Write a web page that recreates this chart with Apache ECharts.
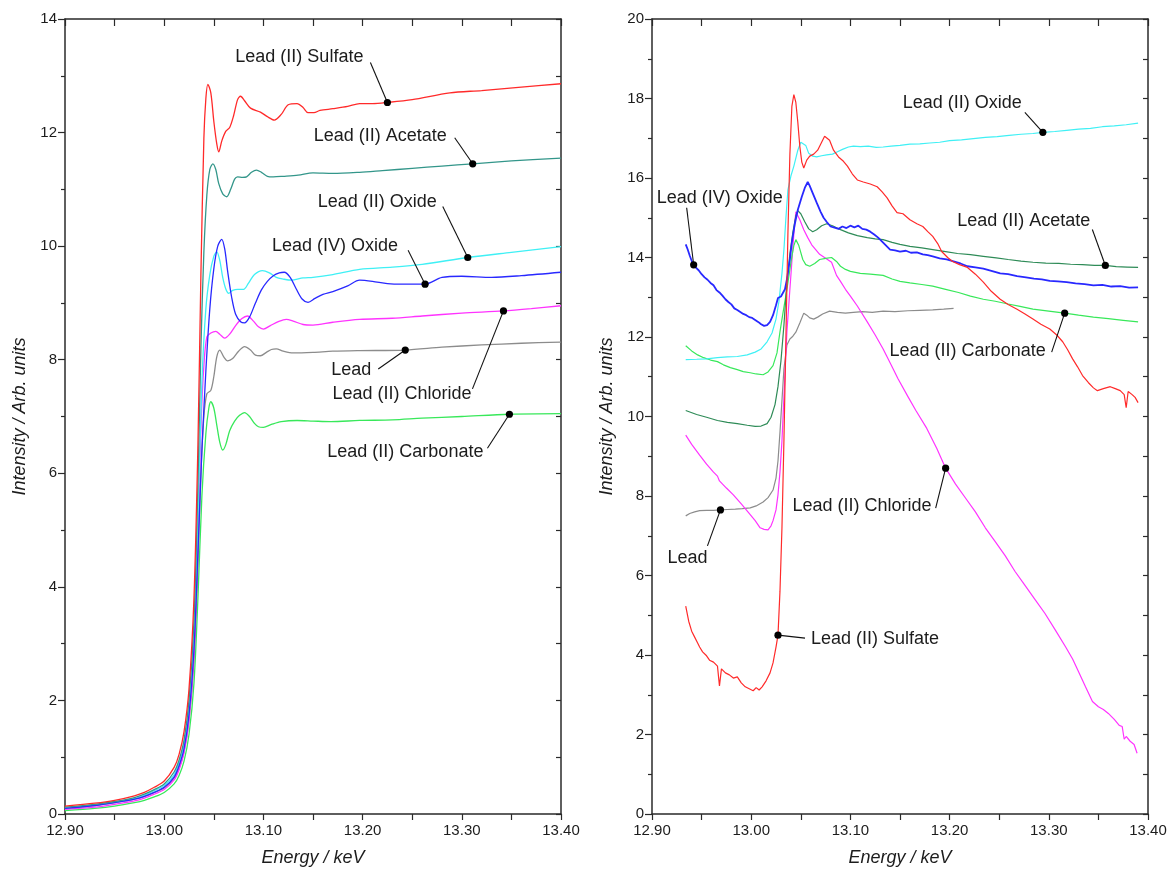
<!DOCTYPE html>
<html>
<head>
<meta charset="utf-8">
<script src="https://cdn.jsdelivr.net/npm/echarts/dist/echarts.min.js"></script>
<style>
  html, body { margin: 0; padding: 0; background: #fff; }
  #chart { width: 1173px; height: 872px; }
</style>
</head>
<body>
<div id="chart"></div>
<script>
// ---- Pb L3-edge XANES, normalised and offset (left panel) ----  [energy keV, intensity]
const leftSulfate = [[12.90,0.14],[12.93,0.19],[12.95,0.24],[12.97,0.32],[12.98,0.38],[12.99,0.47],[13.00,0.58],[13.01,0.82],[13.015,1.05],[13.02,1.45],[13.025,2.2],[13.03,3.8],[13.034,6.5],[13.037,9.5],[13.04,11.9],[13.042,12.6],[13.044,12.85],[13.047,12.7],[13.050,12.2],[13.053,11.8],[13.055,11.66],[13.058,11.85],[13.062,12.02],[13.066,12.09],[13.070,12.3],[13.074,12.58],[13.077,12.64],[13.081,12.56],[13.087,12.43],[13.097,12.36],[13.104,12.28],[13.111,12.22],[13.118,12.32],[13.125,12.49],[13.134,12.51],[13.140,12.44],[13.145,12.35],[13.151,12.35],[13.157,12.39],[13.170,12.42],[13.185,12.46],[13.197,12.51],[13.21,12.51],[13.225,12.53],[13.25,12.58],[13.288,12.7],[13.32,12.74],[13.36,12.8],[13.40,12.86]];
const leftAcetate = [[12.90,0.12],[12.93,0.17],[12.95,0.22],[12.97,0.29],[12.98,0.35],[12.99,0.43],[13.00,0.53],[13.01,0.74],[13.015,0.95],[13.02,1.3],[13.025,2.0],[13.03,3.4],[13.034,5.8],[13.037,8.2],[13.040,9.9],[13.043,10.9],[13.046,11.35],[13.049,11.45],[13.052,11.35],[13.055,11.1],[13.059,10.92],[13.063,10.87],[13.067,11.0],[13.071,11.18],[13.074,11.22],[13.079,11.21],[13.083,11.22],[13.088,11.3],[13.093,11.34],[13.098,11.3],[13.104,11.23],[13.110,11.22],[13.120,11.23],[13.135,11.25],[13.150,11.29],[13.170,11.28],[13.197,11.3],[13.22,11.33],[13.25,11.37],[13.28,11.41],[13.311,11.45],[13.35,11.5],[13.40,11.55]];
const leftOxide2 = [[12.90,0.11],[12.93,0.16],[12.95,0.21],[12.97,0.27],[12.98,0.33],[12.99,0.41],[13.00,0.5],[13.01,0.69],[13.015,0.9],[13.02,1.22],[13.025,1.85],[13.03,3.1],[13.034,5.2],[13.038,7.6],[13.042,8.9],[13.046,9.5],[13.050,9.82],[13.053,9.9],[13.056,9.75],[13.059,9.45],[13.062,9.25],[13.065,9.17],[13.069,9.22],[13.074,9.24],[13.080,9.24],[13.085,9.35],[13.091,9.5],[13.099,9.57],[13.106,9.53],[13.113,9.45],[13.120,9.42],[13.128,9.4],[13.140,9.44],[13.150,9.45],[13.170,9.5],[13.197,9.59],[13.23,9.63],[13.26,9.68],[13.306,9.8],[13.35,9.89],[13.40,9.99]];
const leftOxide4 = [[12.90,0.1],[12.93,0.15],[12.95,0.2],[12.97,0.26],[12.98,0.31],[12.99,0.38],[13.00,0.47],[13.01,0.65],[13.015,0.85],[13.02,1.15],[13.025,1.75],[13.03,2.9],[13.034,4.6],[13.038,6.4],[13.042,7.8],[13.046,8.9],[13.050,9.6],[13.054,10.0],[13.058,10.12],[13.061,9.95],[13.064,9.55],[13.068,9.1],[13.072,8.8],[13.077,8.67],[13.081,8.65],[13.086,8.75],[13.092,9.0],[13.098,9.23],[13.104,9.38],[13.110,9.48],[13.116,9.53],[13.121,9.54],[13.127,9.45],[13.133,9.25],[13.139,9.07],[13.145,9.01],[13.152,9.08],[13.160,9.15],[13.170,9.2],[13.185,9.3],[13.197,9.4],[13.21,9.38],[13.225,9.34],[13.24,9.33],[13.263,9.33],[13.28,9.45],[13.30,9.47],[13.33,9.45],[13.36,9.48],[13.40,9.54]];
const leftChloride = [[12.90,0.08],[12.93,0.12],[12.95,0.17],[12.97,0.23],[12.98,0.28],[12.99,0.35],[13.00,0.43],[13.01,0.6],[13.015,0.78],[13.02,1.08],[13.025,1.65],[13.03,2.8],[13.034,4.8],[13.037,6.8],[13.040,7.9],[13.043,8.4],[13.047,8.47],[13.052,8.5],[13.056,8.45],[13.061,8.38],[13.066,8.45],[13.072,8.6],[13.078,8.72],[13.084,8.77],[13.090,8.68],[13.095,8.58],[13.100,8.54],[13.107,8.6],[13.115,8.67],[13.123,8.71],[13.130,8.68],[13.140,8.62],[13.150,8.61],[13.170,8.66],[13.197,8.71],[13.23,8.73],[13.26,8.77],[13.30,8.82],[13.342,8.86],[13.37,8.9],[13.40,8.95]];
const leftLead = [[12.90,0.1],[12.93,0.15],[12.95,0.2],[12.97,0.26],[12.98,0.31],[12.99,0.38],[13.00,0.46],[13.01,0.63],[13.015,0.82],[13.02,1.1],[13.025,1.65],[13.03,2.7],[13.034,4.4],[13.037,6.0],[13.040,7.0],[13.043,7.4],[13.047,7.46],[13.050,7.7],[13.053,8.05],[13.056,8.17],[13.060,8.05],[13.064,7.98],[13.069,8.02],[13.075,8.15],[13.081,8.23],[13.087,8.17],[13.092,8.08],[13.097,8.07],[13.103,8.13],[13.108,8.18],[13.113,8.19],[13.120,8.15],[13.130,8.12],[13.150,8.13],[13.170,8.15],[13.197,8.16],[13.243,8.17],[13.28,8.22],[13.32,8.26],[13.36,8.29],[13.40,8.31]];
const leftCarbonate = [[12.90,0.06],[12.93,0.1],[12.95,0.14],[12.97,0.2],[12.98,0.24],[12.99,0.3],[13.00,0.38],[13.01,0.53],[13.015,0.68],[13.02,0.93],[13.025,1.4],[13.03,2.3],[13.034,3.8],[13.038,5.6],[13.042,6.7],[13.045,7.15],[13.047,7.26],[13.050,7.15],[13.053,6.85],[13.056,6.55],[13.059,6.41],[13.062,6.5],[13.066,6.75],[13.071,6.92],[13.076,7.02],[13.081,7.07],[13.086,7.0],[13.091,6.88],[13.095,6.82],[13.100,6.81],[13.108,6.86],[13.118,6.91],[13.134,6.93],[13.15,6.92],[13.168,6.91],[13.197,6.93],[13.23,6.94],[13.26,6.97],[13.30,7.0],[13.348,7.04],[13.40,7.05]];

// ---- raw spectra (right panel) ----  [energy keV, intensity]
const rightSulfate = [[12.934,5.23],[12.937,4.85],[12.940,4.6],[12.943,4.45],[12.946,4.3],[12.948,4.2],[12.951,4.08],[12.955,3.98],[12.958,3.87],[12.962,3.82],[12.966,3.72],[12.968,3.22],[12.970,3.65],[12.974,3.55],[12.978,3.5],[12.982,3.42],[12.986,3.45],[12.990,3.3],[12.994,3.2],[12.998,3.15],[13.002,3.1],[13.005,3.18],[13.008,3.12],[13.011,3.2],[13.015,3.35],[13.019,3.55],[13.022,3.8],[13.025,4.2],[13.027,4.5],[13.029,5.6],[13.031,7.2],[13.033,9.4],[13.035,12.0],[13.037,14.6],[13.039,16.6],[13.041,17.8],[13.043,18.1],[13.045,17.9],[13.047,17.4],[13.049,16.8],[13.051,16.4],[13.053,16.25],[13.056,16.45],[13.059,16.55],[13.063,16.6],[13.067,16.7],[13.071,16.9],[13.074,17.05],[13.076,17.08],[13.079,16.95],[13.083,16.7],[13.088,16.53],[13.093,16.42],[13.097,16.3],[13.102,16.1],[13.107,15.95],[13.113,15.9],[13.120,15.85],[13.127,15.78],[13.132,15.65],[13.137,15.5],[13.142,15.3],[13.147,15.13],[13.153,15.1],[13.160,14.95],[13.167,14.85],[13.173,14.78],[13.178,14.65],[13.183,14.53],[13.188,14.35],[13.192,14.15],[13.198,14.0],[13.203,13.9],[13.210,13.82],[13.218,13.75],[13.226,13.58],[13.234,13.38],[13.242,13.15],[13.251,12.95],[13.259,12.82],[13.268,12.7],[13.276,12.58],[13.284,12.45],[13.292,12.32],[13.301,12.2],[13.308,12.05],[13.314,11.88],[13.319,11.68],[13.324,11.45],[13.329,11.25],[13.334,11.03],[13.340,10.85],[13.345,10.72],[13.349,10.65],[13.355,10.7],[13.362,10.75],[13.367,10.7],[13.372,10.65],[13.376,10.55],[13.378,10.22],[13.380,10.63],[13.384,10.55],[13.387,10.48],[13.390,10.35]];
const rightAcetate = [[12.934,10.15],[12.945,10.05],[12.955,9.98],[12.966,9.9],[12.976,9.85],[12.986,9.82],[12.996,9.78],[13.004,9.75],[13.010,9.76],[13.016,9.82],[13.020,9.98],[13.024,10.3],[13.027,10.75],[13.030,11.4],[13.033,12.3],[13.036,13.38],[13.039,14.1],[13.042,14.63],[13.045,15.05],[13.047,15.18],[13.050,15.1],[13.054,14.9],[13.058,14.72],[13.062,14.65],[13.066,14.7],[13.071,14.8],[13.076,14.85],[13.082,14.8],[13.090,14.7],[13.098,14.62],[13.107,14.55],[13.117,14.5],[13.125,14.47],[13.133,14.45],[13.142,14.38],[13.150,14.33],[13.160,14.28],[13.172,14.24],[13.183,14.2],[13.196,14.15],[13.208,14.1],[13.221,14.07],[13.234,14.03],[13.247,13.99],[13.259,13.95],[13.272,13.91],[13.284,13.88],[13.297,13.86],[13.310,13.85],[13.322,13.83],[13.334,13.82],[13.346,13.8],[13.357,13.8],[13.368,13.77],[13.379,13.76],[13.390,13.75]];
const rightOxide2 = [[12.934,11.43],[12.945,11.44],[12.955,11.45],[12.966,11.48],[12.976,11.5],[12.986,11.51],[12.996,11.55],[13.004,11.62],[13.010,11.7],[13.016,11.88],[13.021,12.1],[13.025,12.45],[13.028,12.9],[13.031,13.6],[13.033,14.2],[13.035,15.0],[13.037,15.7],[13.040,16.05],[13.043,16.3],[13.047,16.7],[13.050,16.9],[13.052,16.95],[13.055,16.82],[13.058,16.62],[13.062,16.55],[13.066,16.53],[13.071,16.56],[13.076,16.58],[13.082,16.6],[13.087,16.66],[13.092,16.72],[13.098,16.78],[13.103,16.8],[13.110,16.79],[13.118,16.8],[13.126,16.77],[13.133,16.78],[13.141,16.8],[13.150,16.82],[13.160,16.85],[13.170,16.86],[13.180,16.88],[13.190,16.9],[13.200,16.94],[13.212,16.96],[13.224,16.99],[13.236,17.02],[13.248,17.04],[13.260,17.07],[13.272,17.1],[13.284,17.12],[13.294,17.15],[13.306,17.17],[13.318,17.2],[13.330,17.23],[13.342,17.25],[13.354,17.29],[13.366,17.31],[13.378,17.34],[13.390,17.38]];
const rightOxide4 = [[12.934,14.33],[12.936,14.2],[12.938,14.05],[12.941,13.85],[12.944,13.75],[12.947,13.68],[12.950,13.58],[12.953,13.5],[12.956,13.44],[12.959,13.36],[12.962,13.3],[12.965,13.18],[12.968,13.12],[12.971,13.04],[12.974,12.95],[12.977,12.88],[12.980,12.82],[12.983,12.72],[12.986,12.68],[12.989,12.63],[12.992,12.58],[12.995,12.55],[12.998,12.5],[13.001,12.48],[13.004,12.43],[13.007,12.38],[13.010,12.32],[13.013,12.28],[13.016,12.3],[13.019,12.38],[13.022,12.55],[13.025,12.8],[13.027,12.98],[13.030,13.02],[13.032,13.0],[13.034,13.2],[13.036,13.45],[13.039,13.95],[13.041,14.38],[13.044,14.85],[13.047,15.2],[13.051,15.53],[13.054,15.75],[13.057,15.9],[13.059,15.8],[13.062,15.62],[13.066,15.38],[13.070,15.15],[13.073,15.0],[13.076,14.9],[13.080,14.78],[13.084,14.75],[13.088,14.72],[13.092,14.78],[13.096,14.74],[13.100,14.8],[13.104,14.76],[13.108,14.8],[13.112,14.72],[13.116,14.7],[13.120,14.65],[13.124,14.58],[13.128,14.5],[13.132,14.4],[13.136,14.3],[13.140,14.2],[13.145,14.18],[13.150,14.15],[13.156,14.17],[13.161,14.12],[13.167,14.13],[13.173,14.08],[13.178,14.06],[13.183,14.03],[13.190,13.98],[13.197,13.95],[13.204,13.9],[13.211,13.85],[13.218,13.78],[13.226,13.75],[13.234,13.72],[13.243,13.66],[13.251,13.6],[13.259,13.58],[13.268,13.53],[13.277,13.5],[13.285,13.47],[13.293,13.45],[13.301,13.41],[13.309,13.4],[13.318,13.38],[13.327,13.35],[13.336,13.33],[13.345,13.3],[13.354,13.31],[13.363,13.27],[13.372,13.28],[13.381,13.24],[13.390,13.25]];
const rightChloride = [[12.934,9.53],[12.940,9.3],[12.948,9.03],[12.955,8.8],[12.962,8.6],[12.966,8.5],[12.968,8.38],[12.975,8.2],[12.982,8.03],[12.990,7.8],[12.999,7.53],[13.004,7.38],[13.009,7.2],[13.013,7.16],[13.017,7.15],[13.020,7.25],[13.022,7.38],[13.025,7.65],[13.027,8.03],[13.029,8.6],[13.031,9.38],[13.033,10.5],[13.036,12.13],[13.039,13.2],[13.041,13.9],[13.043,14.6],[13.045,15.15],[13.047,15.1],[13.049,14.95],[13.053,14.7],[13.057,14.5],[13.061,14.32],[13.065,14.2],[13.069,14.08],[13.075,13.98],[13.081,13.88],[13.086,13.55],[13.090,13.4],[13.095,13.2],[13.100,13.03],[13.107,12.78],[13.117,12.38],[13.125,12.05],[13.133,11.7],[13.141,11.3],[13.148,10.95],[13.158,10.5],[13.166,10.15],[13.177,9.7],[13.187,9.2],[13.196,8.7],[13.206,8.3],[13.216,7.95],[13.226,7.6],[13.236,7.2],[13.246,6.85],[13.256,6.5],[13.266,6.1],[13.276,5.75],[13.286,5.4],[13.296,5.05],[13.306,4.65],[13.317,4.2],[13.324,3.9],[13.330,3.58],[13.337,3.2],[13.344,2.83],[13.350,2.7],[13.355,2.63],[13.360,2.53],[13.366,2.38],[13.371,2.23],[13.374,2.2],[13.376,1.88],[13.378,1.95],[13.380,2.0],[13.382,1.83],[13.386,1.75],[13.389,1.53]];
const rightLead = [[12.934,7.5],[12.938,7.56],[12.943,7.6],[12.948,7.63],[12.955,7.64],[12.962,7.64],[12.969,7.65],[12.976,7.66],[12.984,7.67],[12.991,7.68],[12.999,7.7],[13.005,7.75],[13.012,7.85],[13.017,7.96],[13.022,8.15],[13.025,8.45],[13.027,8.88],[13.029,9.6],[13.031,10.4],[13.033,11.2],[13.036,11.8],[13.039,11.95],[13.042,12.02],[13.045,12.12],[13.049,12.35],[13.053,12.6],[13.056,12.55],[13.059,12.48],[13.063,12.45],[13.067,12.5],[13.072,12.58],[13.079,12.65],[13.087,12.62],[13.095,12.6],[13.103,12.62],[13.112,12.64],[13.122,12.62],[13.133,12.65],[13.145,12.64],[13.158,12.66],[13.170,12.67],[13.183,12.68],[13.194,12.7],[13.204,12.72]];
const rightCarbonate = [[12.934,11.78],[12.940,11.65],[12.946,11.55],[12.952,11.48],[12.959,11.42],[12.966,11.38],[12.972,11.3],[12.979,11.23],[12.986,11.18],[12.992,11.13],[12.999,11.1],[13.005,11.07],[13.012,11.05],[13.017,11.12],[13.022,11.28],[13.026,11.6],[13.029,12.13],[13.032,12.6],[13.036,13.2],[13.039,13.7],[13.041,14.03],[13.043,14.3],[13.045,14.45],[13.048,14.3],[13.052,13.95],[13.055,13.82],[13.059,13.78],[13.064,13.85],[13.069,13.95],[13.075,13.98],[13.081,14.0],[13.086,13.9],[13.090,13.78],[13.095,13.7],[13.100,13.65],[13.110,13.6],[13.120,13.58],[13.133,13.55],[13.142,13.46],[13.150,13.4],[13.160,13.36],[13.172,13.32],[13.183,13.28],[13.196,13.2],[13.209,13.12],[13.221,13.03],[13.234,12.95],[13.246,12.9],[13.259,12.83],[13.271,12.77],[13.284,12.7],[13.300,12.65],[13.316,12.6],[13.330,12.55],[13.345,12.5],[13.360,12.46],[13.375,12.42],[13.390,12.38]];

// axis ranges
const energyRange = [12.90, 13.40];
const leftIntensityMax = 14;
const rightIntensityMax = 20;

// callout labels: which curve, and the energy where the marker sits
const leftNotes = [
  { text: 'Lead (II) Sulfate',   data: leftSulfate,   energy: 13.225 },
  { text: 'Lead (II) Acetate',   data: leftAcetate,   energy: 13.311 },
  { text: 'Lead (II) Oxide',     data: leftOxide2,    energy: 13.306 },
  { text: 'Lead (IV) Oxide',     data: leftOxide4,    energy: 13.263 },
  { text: 'Lead',                data: leftLead,      energy: 13.243 },
  { text: 'Lead (II) Chloride',  data: leftChloride,  energy: 13.342 },
  { text: 'Lead (II) Carbonate', data: leftCarbonate, energy: 13.348 }
];
const rightNotes = [
  { text: 'Lead (II) Oxide',     data: rightOxide2,    energy: 13.294 },
  { text: 'Lead (IV) Oxide',     data: rightOxide4,    energy: 12.942 },
  { text: 'Lead (II) Acetate',   data: rightAcetate,   energy: 13.357 },
  { text: 'Lead (II) Carbonate', data: rightCarbonate, energy: 13.316 },
  { text: 'Lead (II) Chloride',  data: rightChloride,  energy: 13.196 },
  { text: 'Lead',                data: rightLead,      energy: 12.969 },
  { text: 'Lead (II) Sulfate',   data: rightSulfate,   energy: 13.027 }
];

// pixel offsets of leader end and text anchor from each marker
const leftNoteLayout = [
  { line: [-17, -40], text: [-24, -45], align: 'right' },
  { line: [-18, -26], text: [-26, -28], align: 'right' },
  { line: [-25, -51], text: [-31, -55], align: 'right' },
  { line: [-17, -34], text: [-27, -38], align: 'right' },
  { line: [-27, 19],  text: [-34, 20],  align: 'right' },
  { line: [-31, 78],  text: [-32, 83],  align: 'right' },
  { line: [-22, 34],  text: [-26, 38],  align: 'right' }
];
const rightNoteLayout = [
  { line: [-18, -20], text: [-21, -29], align: 'right' },
  { line: [-7, -57],  text: [26, -67],  align: 'center' },
  { line: [-13, -36], text: [-15, -44], align: 'right' },
  { line: [-13, 39],  text: [-19, 38],  align: 'right' },
  { line: [-10, 40],  text: [-14, 38],  align: 'right' },
  { line: [-13, 36],  text: [-13, 48],  align: 'right' },
  { line: [27, 3],    text: [33, 4],    align: 'left' }
];

const COLORS = {
  sulfate: '#ff2a2a', acetateL: '#33968a', acetateR: '#2e8b57', oxide2: '#3ff0f5',
  oxide4: '#2828ff', chloride: '#ff33ff', lead: '#8c8c8c', carbonate: '#38e85a'
};
const FONT = '"Liberation Sans", Arial, Helvetica, sans-serif';
const AXIS_COLOR = '#2a2a2a';
const TEXT_COLOR = '#1c1c1c';

function valueAt(series, e) {
  for (let i = 0; i < series.length - 1; i++) {
    const a = series[i], b = series[i + 1];
    if (e >= a[0] && e <= b[0]) {
      const t = (e - a[0]) / (b[0] - a[0]);
      return a[1] + t * (b[1] - a[1]);
    }
  }
  return series[series.length - 1][1];
}

function energyLabel(v) {
  const k = Math.round(v * 100);
  return k % 10 === 0 ? (k / 100).toFixed(2) : '';
}

function bottomAxis(gridIndex) {
  return {
    type: 'value', gridIndex, position: 'bottom',
    min: energyRange[0], max: energyRange[1], interval: 0.05,
    name: 'Energy / keV', nameLocation: 'middle', nameGap: 35,
    nameTextStyle: { fontFamily: FONT, fontSize: 18, fontStyle: 'italic', color: TEXT_COLOR },
    axisLine: { show: true, onZero: false, lineStyle: { color: AXIS_COLOR, width: 1.5 } },
    axisTick: { show: true, inside: false, length: 6, lineStyle: { color: AXIS_COLOR, width: 1.2 } },
    axisLabel: { show: true, formatter: energyLabel, margin: 9, fontFamily: FONT, fontSize: 15, color: TEXT_COLOR, showMaxLabel: true, showMinLabel: true },
    splitLine: { show: false }
  };
}
function topAxis(gridIndex) {
  return {
    type: 'value', gridIndex, position: 'top',
    min: energyRange[0], max: energyRange[1], interval: 0.05,
    axisLine: { show: true, onZero: false, lineStyle: { color: AXIS_COLOR, width: 1.5 } },
    axisTick: { show: true, inside: true, length: 7, lineStyle: { color: AXIS_COLOR, width: 1.2 } },
    axisLabel: { show: false }, splitLine: { show: false }
  };
}
function leftAxis(gridIndex, max) {
  return {
    type: 'value', gridIndex, position: 'left', min: 0, max, interval: 2,
    name: 'Intensity / Arb. units', nameLocation: 'middle', nameGap: 36, nameRotate: 90,
    nameTextStyle: { fontFamily: FONT, fontSize: 18, fontStyle: 'italic', color: TEXT_COLOR },
    axisLine: { show: true, onZero: false, lineStyle: { color: AXIS_COLOR, width: 1.5 } },
    axisTick: { show: true, inside: false, length: 7, lineStyle: { color: AXIS_COLOR, width: 1.2 } },
    minorTick: { show: true, splitNumber: 2, length: 4, lineStyle: { color: AXIS_COLOR, width: 1.2 } },
    axisLabel: { margin: 8, fontFamily: FONT, fontSize: 15, color: TEXT_COLOR },
    splitLine: { show: false }, minorSplitLine: { show: false }
  };
}
function rightAxis(gridIndex, max) {
  return {
    type: 'value', gridIndex, position: 'right', min: 0, max, interval: 1,
    axisLine: { show: true, onZero: false, lineStyle: { color: AXIS_COLOR, width: 1.5 } },
    axisTick: { show: true, inside: true, length: 5, lineStyle: { color: AXIS_COLOR, width: 1.2 } },
    axisLabel: { show: false }, splitLine: { show: false }
  };
}

function curve(data, color, axisIdx, smooth, width) {
  return {
    type: 'line', data, xAxisIndex: axisIdx, yAxisIndex: axisIdx,
    showSymbol: false, symbol: 'none', smooth: smooth,
    lineStyle: { color, width }, itemStyle: { color }, silent: true, z: 2
  };
}

function noteSeries(notes, layout, axisIdx) {
  return {
    type: 'custom', xAxisIndex: axisIdx, yAxisIndex: axisIdx, z: 10, silent: true, clip: false,
    data: notes.map(n => [n.energy, valueAt(n.data, n.energy)]),
    renderItem(params, api) {
      const p = api.coord([api.value(0), api.value(1)]);
      const L = layout[params.dataIndex];
      const n = notes[params.dataIndex];
      return {
        type: 'group',
        children: [
          { type: 'line', shape: { x1: p[0], y1: p[1], x2: p[0] + L.line[0], y2: p[1] + L.line[1] },
            style: { stroke: '#111', lineWidth: 1.1 } },
          { type: 'circle', shape: { cx: p[0], cy: p[1], r: 3.6 }, style: { fill: '#000' } },
          { type: 'text', x: p[0] + L.text[0], y: p[1] + L.text[1],
            style: { text: n.text, fill: TEXT_COLOR, font: '18px ' + FONT, align: L.align, verticalAlign: 'middle' } }
        ]
      };
    }
  };
}

const chart = echarts.init(document.getElementById('chart'), null, { renderer: 'canvas' });
chart.setOption({
  backgroundColor: '#ffffff',
  animation: false,
  grid: [
    { left: 65, top: 19, width: 496, height: 799 },
    { left: 652, top: 19, width: 496, height: 799 }
  ],
  xAxis: [bottomAxis(0), topAxis(0), bottomAxis(1), topAxis(1)],
  yAxis: [leftAxis(0, leftIntensityMax), rightAxis(0, leftIntensityMax), leftAxis(1, rightIntensityMax), rightAxis(1, rightIntensityMax)],
  series: [
    curve(leftCarbonate, COLORS.carbonate, 0, 0.3, 1.3),
    curve(leftLead, COLORS.lead, 0, 0.3, 1.3),
    curve(leftChloride, COLORS.chloride, 0, 0.3, 1.3),
    curve(leftOxide2, COLORS.oxide2, 0, 0.3, 1.3),
    curve(leftOxide4, COLORS.oxide4, 0, 0.3, 1.3),
    curve(leftAcetate, COLORS.acetateL, 0, 0.3, 1.3),
    curve(leftSulfate, COLORS.sulfate, 0, 0.3, 1.3),
    noteSeries(leftNotes, leftNoteLayout, 0),

    curve(rightLead, COLORS.lead, 2, false, 1.2),
    curve(rightChloride, COLORS.chloride, 2, false, 1.2),
    curve(rightCarbonate, COLORS.carbonate, 2, false, 1.2),
    curve(rightAcetate, COLORS.acetateR, 2, false, 1.2),
    curve(rightOxide2, COLORS.oxide2, 2, false, 1.2),
    curve(rightOxide4, COLORS.oxide4, 2, false, 1.8),
    curve(rightSulfate, COLORS.sulfate, 2, false, 1.2),
    noteSeries(rightNotes, rightNoteLayout, 2)
  ]
});
</script>
</body>
</html>
